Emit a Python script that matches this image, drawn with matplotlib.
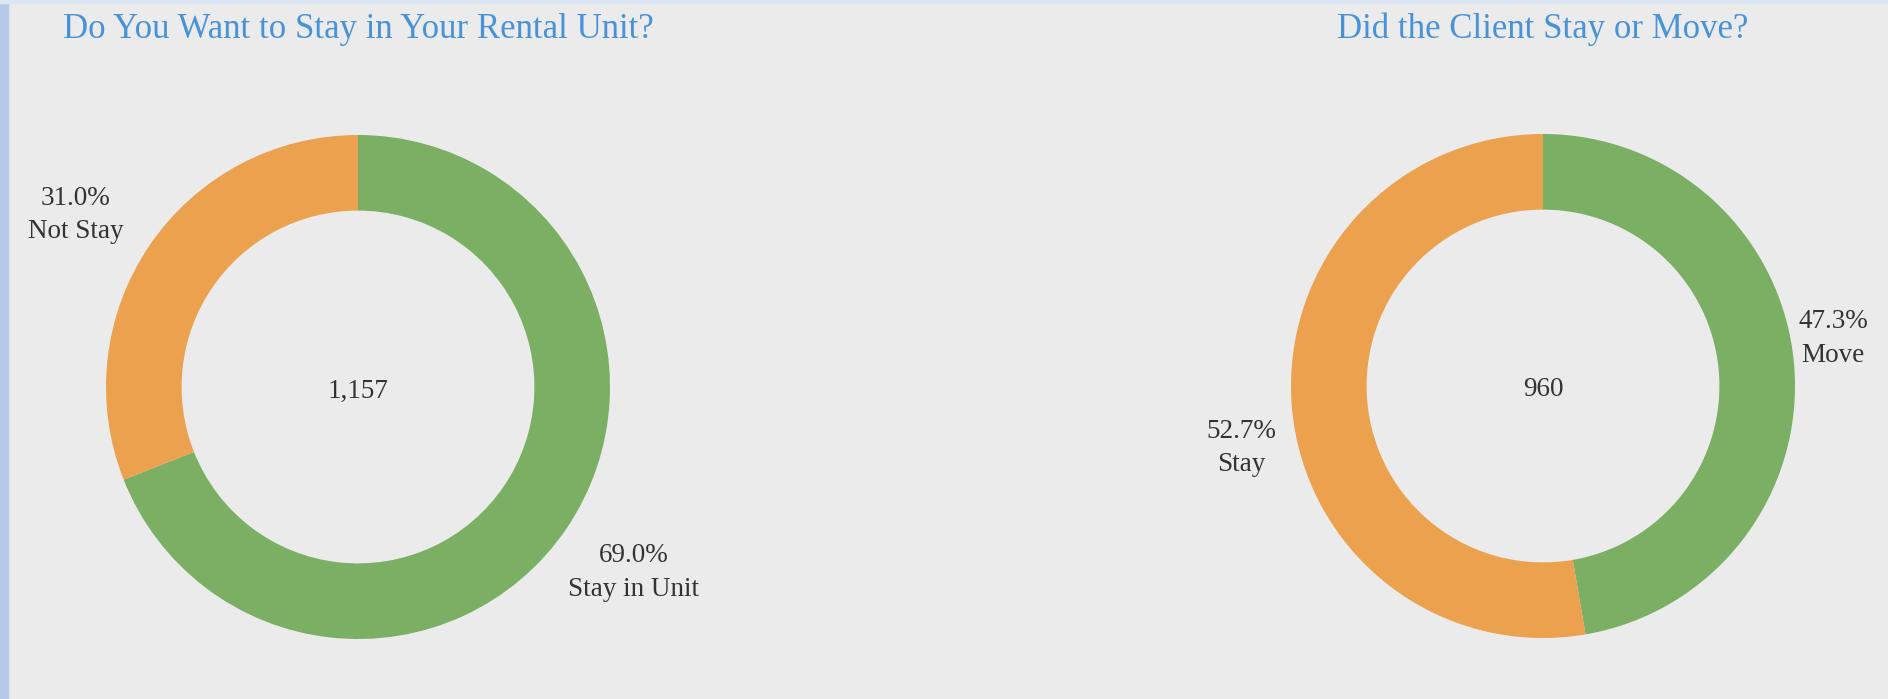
import numpy as np
import matplotlib
matplotlib.use("Agg")
from matplotlib import pyplot as plt
from matplotlib.patches import Rectangle

# chart data
titles = ["Do You Want to Stay in Your Rental Unit?", "Did the Client Stay or Move?"]
totals = ["1,157", "960"]
left_labels = ["Stay in Unit", "Not Stay"]
left_pct = [69.0, 31.0]
right_labels = ["Move", "Stay"]
right_pct = [47.3, 52.7]

green = "#7aaf64"
orange = "#eca14f"
bg = "#ebebeb"
title_col = "#4893d8"
text_col = "#333333"

W, H = 1888, 699
fig = plt.figure(figsize=(W / 100, H / 100), dpi=100, facecolor=bg)
ax = fig.add_axes([0, 0, 1, 1])
ax.set_facecolor(bg)

# donut layout in pixels (y from top)
centers = [(358, 387), (1543, 386)]
R = 252
ring = 0.30
label_dist = [[1.31, 1.32], [1.17, 1.22]]
label_rot = [[0.8, 2.3], [5.2, 6.0]]
txt_dy = -4  # text sits a touch lower than matplotlib's centre

serif = ["Liberation Serif", "DejaVu Serif"]

charts = [(left_labels, left_pct), (right_labels, right_pct)]
for i, (labs, vals) in enumerate(charts):
    cx, cy = centers[i]
    cy = H - cy
    wedges, _ = ax.pie(vals, colors=[green, orange], startangle=90, counterclock=False,
                       center=(cx, cy), radius=R, frame=True,
                       wedgeprops=dict(width=R * ring, linewidth=0))
    for j, w in enumerate(wedges):
        mid = np.deg2rad((w.theta1 + w.theta2) / 2 + label_rot[i][j])
        d = label_dist[i][j] * R
        ax.text(cx + d * np.cos(mid), cy + d * np.sin(mid) + txt_dy,
                "%.1f%%\n%s" % (vals[j], labs[j]), ha="center", va="center",
                fontsize=19.5, family=serif, color=text_col, linespacing=1.45)
    ax.text(cx, cy + txt_dy, totals[i], ha="center", va="center", fontsize=19.5,
            family=serif, color=text_col)
    ax.text(cx, H - 38, titles[i], ha="center", va="baseline", fontsize=25,
            family=serif, color=title_col)

ax.set_xlim(0, W)
ax.set_ylim(0, H)
ax.set_aspect("auto")
ax.axis("off")

# page edges
fig.patches.append(Rectangle((0, 0), 8 / W, 1, transform=fig.transFigure,
                             color="#b6c9e8", zorder=5))
fig.patches.append(Rectangle((0, 1 - 3 / H), 1, 3 / H, transform=fig.transFigure,
                             color="#dde6f4", zorder=5))

fig.savefig("out.png", dpi=100, facecolor=bg)
